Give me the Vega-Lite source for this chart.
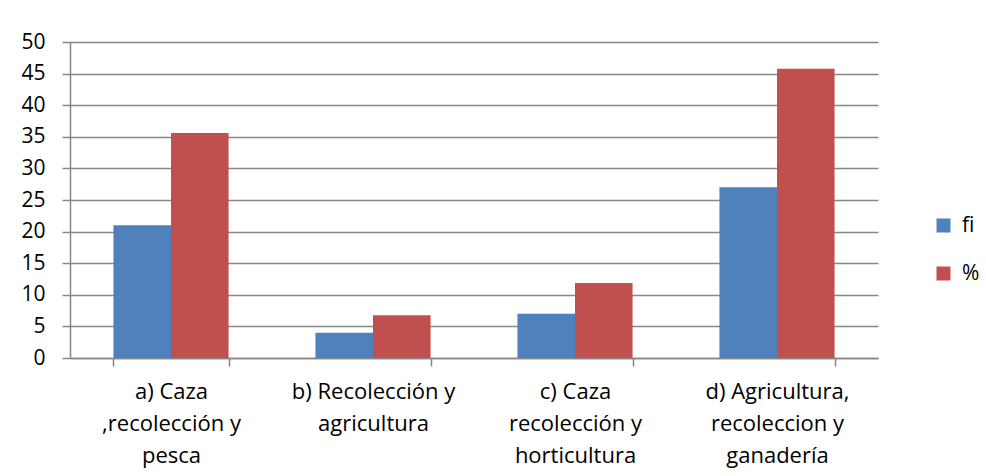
{
  "$schema": "https://vega.github.io/schema/vega-lite/v6.json",
  "width": 808,
  "height": 316,
  "autosize": {"type": "none"},
  "padding": {"left": 70, "top": 42, "right": 108, "bottom": 118},
  "background": "white",
  "config": {
    "view": {"stroke": null},
    "font": "Open Sans",
    "axis": {"labelFont": "Open Sans", "labelColor": "#000000"},
    "legend": {"labelFont": "Open Sans", "labelColor": "#000000"}
  },
  "data": {
    "values": [
      {"cat": "a) Caza|,recolección y|pesca", "serie": "fi", "value": 21},
      {"cat": "a) Caza|,recolección y|pesca", "serie": "%", "value": 35.59},
      {"cat": "b) Recolección y|agricultura", "serie": "fi", "value": 4},
      {"cat": "b) Recolección y|agricultura", "serie": "%", "value": 6.78},
      {"cat": "c) Caza|recolección y|horticultura", "serie": "fi", "value": 7},
      {"cat": "c) Caza|recolección y|horticultura", "serie": "%", "value": 11.86},
      {"cat": "d) Agricultura,|recoleccion y|ganadería", "serie": "fi", "value": 27},
      {"cat": "d) Agricultura,|recoleccion y|ganadería", "serie": "%", "value": 45.76}
    ]
  },
  "mark": {"type": "bar"},
  "encoding": {
    "x": {
      "field": "cat",
      "type": "nominal",
      "sort": null,
      "scale": {"paddingInner": 0.43, "paddingOuter": 0.215},
      "axis": {
        "title": null,
        "labelAngle": 0,
        "labelExpr": "split(datum.label, '|')",
        "labelFontSize": 22,
        "labelLineHeight": 32,
        "labelPadding": 15,
        "labelBaseline": "top",
        "tickBand": "extent",
        "ticks": true,
        "tickSize": 8,
        "tickColor": "#878787",
        "tickWidth": 1.5,
        "domainColor": "#878787",
        "domainWidth": 1.5,
        "grid": false
      }
    },
    "xOffset": {"field": "serie", "type": "nominal", "sort": ["fi", "%"], "scale": {"padding": 0}},
    "y": {
      "field": "value",
      "type": "quantitative",
      "scale": {"domain": [0, 50], "nice": false},
      "axis": {
        "title": null,
        "values": [0, 5, 10, 15, 20, 25, 30, 35, 40, 45, 50],
        "labelFontSize": 21,
        "labelPadding": 17,
        "tickSize": 8,
        "tickColor": "#878787",
        "tickWidth": 1.5,
        "domainColor": "#878787",
        "domainWidth": 1.5,
        "grid": true,
        "gridColor": "#878787",
        "gridWidth": 1.5
      }
    },
    "color": {
      "field": "serie",
      "type": "nominal",
      "sort": ["fi", "%"],
      "scale": {"domain": ["fi", "%"], "range": ["#4F81BD", "#C0504D"]},
      "legend": {
        "title": null,
        "orient": "none",
        "legendX": 863,
        "legendY": 173,
        "symbolType": "square",
        "symbolSize": 196,
        "symbolStrokeWidth": 0,
        "symbolOpacity": 1,
        "labelFontSize": 21,
        "labelOffset": 8,
        "rowPadding": 26
      }
    }
  }
}
